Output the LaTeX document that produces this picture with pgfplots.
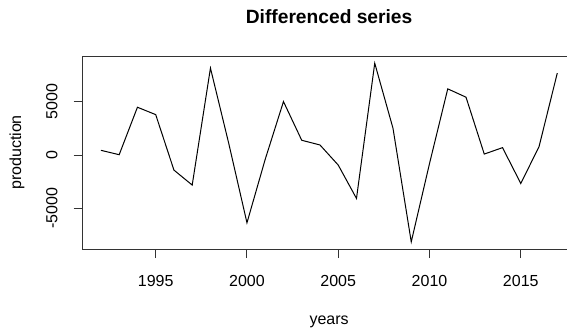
\documentclass[border=0pt]{standalone}
\usepackage{pgfplots}
\pgfplotsset{compat=1.18}
\usepackage{fontspec}
\setmainfont{Liberation Sans}

% first differences of yearly production
\pgfplotstableread{
year diff
1992 440
1993 30
1994 4470
1995 3780
1996 -1410
1997 -2810
1998 8130
1999 1100
2000 -6340
2001 -400
2002 5000
2003 1380
2004 940
2005 -940
2006 -4060
2007 8590
2008 2500
2009 -8125
2010 -800
2011 6190
2012 5410
2013 90
2014 690
2015 -2660
2016 780
2017 7660
}\diffdata

\begin{document}
\begin{tikzpicture}
\useasboundingbox (-62.0pt,-60.75pt) rectangle (363.2pt,186.75pt);
\clip (-62.0pt,-60.75pt) rectangle (363.2pt,186.75pt);
\begin{axis}[
  at={(0,0)}, anchor=south west,
  scale only axis,
  width=369.6pt, height=144.75pt,
  xmin=1991, xmax=2018,
  ymin=-8794, ymax=9260,
  xtick={1995,2000,2005,2010,2015},
  ytick={-5000,0,5000},
  tick pos=left,
  tick align=outside,
  major tick length=6.75pt,
  axis line style={line width=0.75pt, black!80},
  every tick/.style={line width=0.75pt, black!80},
  xticklabel style={font=\fontsize{12}{14}\selectfont, inner sep=0pt, anchor=north, yshift=-12.5pt},
  % rotated labels: a positive yshift moves them away from the axis
  yticklabel style={font=\fontsize{12}{14}\selectfont, inner sep=0pt, rotate=90, anchor=south, yshift=12pt},
  scaled y ticks=false,
  x tick label style={/pgf/number format/1000 sep={}},
  y tick label style={/pgf/number format/1000 sep={}},
  /pgf/number format/assume math mode=true,
  xlabel={years},
  ylabel={production},
  xlabel style={font=\fontsize{12}{14}\selectfont, anchor=center, at={(axis description cs:0.5,-0.375)}},
  ylabel style={font=\fontsize{12}{14}\selectfont, anchor=center, rotate=0, at={(axis description cs:-0.1334,0.5)}},
  title={\textbf{Differenced series}},
  title style={font=\fontsize{14.4}{16}\selectfont, anchor=center, at={(axis description cs:0.5,1.162)}},
  clip=false,
]
\addplot[black, line width=0.75pt] table[x=year, y=diff] {\diffdata};
\end{axis}
\end{tikzpicture}
\end{document}
